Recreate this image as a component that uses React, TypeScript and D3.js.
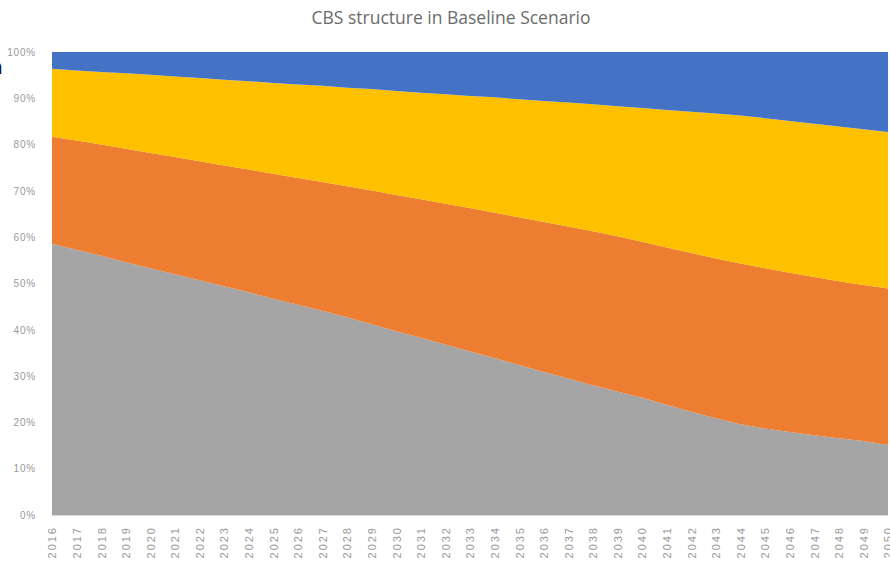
import * as d3 from 'd3'
import { useEffect, useRef } from 'react'

const years = [
  2016, 2017, 2018, 2019, 2020, 2021, 2022, 2023, 2024, 2025, 2026, 2027,
  2028, 2029, 2030, 2031, 2032, 2033, 2034, 2035, 2036, 2037, 2038, 2039,
  2040, 2041, 2042, 2043, 2044, 2045, 2046, 2047, 2048, 2049, 2050,
]

// shares in %, bottom to top
const grey = [
  58.6, 57.3, 56.0, 54.6, 53.3, 52.0, 50.7, 49.4, 48.1, 46.7, 45.4, 44.1,
  42.7, 41.2, 39.7, 38.3, 36.8, 35.3, 33.9, 32.4, 30.9, 29.5, 28.0, 26.7,
  25.3, 23.8, 22.3, 20.9, 19.6, 18.7, 17.9, 17.2, 16.6, 16.0, 15.1,
]
const orange = [
  23.1, 23.6, 24.0, 24.5, 24.9, 25.3, 25.7, 26.1, 26.5, 27.0, 27.4, 27.8,
  28.3, 28.9, 29.4, 29.9, 30.4, 31.0, 31.4, 31.9, 32.4, 32.8, 33.3, 33.5,
  33.7, 34.0, 34.3, 34.5, 34.7, 34.6, 34.4, 34.2, 33.9, 33.7, 33.8,
]
const yellow = [
  14.7, 15.1, 15.7, 16.3, 16.9, 17.4, 18.0, 18.5, 19.1, 19.6, 20.2, 20.8,
  21.3, 21.9, 22.5, 23.0, 23.7, 24.2, 24.9, 25.5, 26.1, 26.8, 27.4, 28.1,
  28.9, 29.7, 30.5, 31.3, 32.0, 32.4, 32.8, 33.1, 33.4, 33.6, 33.8,
]
const blue = [
  3.6, 4.0, 4.3, 4.6, 4.9, 5.3, 5.6, 6.0, 6.3, 6.7, 7.0, 7.3, 7.7, 8.0, 8.4,
  8.8, 9.1, 9.5, 9.8, 10.2, 10.6, 10.9, 11.3, 11.7, 12.1, 12.5, 12.9, 13.3,
  13.7, 14.3, 14.9, 15.5, 16.1, 16.7, 17.3,
]

const seriesKeys = ['grey', 'orange', 'yellow', 'blue']
const seriesColors = ['#a5a5a5', '#ed7d31', '#ffc000', '#4472c4']
const yTicks = [0, 0.1, 0.2, 0.3, 0.4, 0.5, 0.6, 0.7, 0.8, 0.9, 1]

const title = 'CBS structure in Baseline Scenario'

const App = () => {
  const ref = useRef<SVGSVGElement>(null)

  useEffect(() => {
    const width = 890
    const height = 568
    const margin = { top: 52, right: 2, bottom: 53, left: 52 }

    const svg = d3.select(ref.current)
    svg.selectAll('*').remove()
    svg.attr('width', width).attr('height', height)

    const rows = years.map((yr, i) => ({
      year: yr,
      grey: grey[i],
      orange: orange[i],
      yellow: yellow[i],
      blue: blue[i],
    }))

    const stacked = d3
      .stack<any>()
      .keys(seriesKeys)
      .offset(d3.stackOffsetExpand)(rows)

    const x = d3
      .scaleLinear()
      .domain([years[0], years[years.length - 1]])
      .range([margin.left, width - margin.right])
    const y = d3
      .scaleLinear()
      .domain([0, 1])
      .range([height - margin.bottom, margin.top])

    // title
    svg
      .append('text')
      .attr('x', 451)
      .attr('y', 24)
      .attr('text-anchor', 'middle')
      .attr('font-family', 'Open Sans, sans-serif')
      .attr('font-size', 17.5)
      .attr('fill', '#6b6b6b')
      .text(title)

    // cut off letter at the left edge
    svg
      .append('text')
      .attr('x', -12)
      .attr('y', 74)
      .attr('font-family', 'DejaVu Sans, sans-serif')
      .attr('font-weight', 'bold')
      .attr('font-size', 22)
      .attr('fill', '#111')
      .text('a')

    const area = d3
      .area<any>()
      .x((d) => x(d.data.year))
      .y0((d) => y(d[0]))
      .y1((d) => y(d[1]))

    svg
      .append('g')
      .selectAll('path')
      .data(stacked)
      .enter()
      .append('path')
      .attr('d', area)
      .attr('fill', (d, i) => seriesColors[i])

    // y axis
    svg
      .append('g')
      .attr('transform', `translate(${margin.left - 13},0)`)
      .call(
        d3
          .axisLeft(y)
          .tickValues(yTicks)
          .tickFormat(d3.format('.0%'))
          .tickSize(0)
      )
      .call((g) => g.select('.domain').remove())
      .call((g) =>
        g
          .selectAll('text')
          .attr('font-family', 'Liberation Sans, sans-serif')
          .attr('font-size', 10)
          .attr('letter-spacing', 0.8)
          .attr('fill', '#999')
      )

    // x axis
    svg
      .append('line')
      .attr('x1', margin.left)
      .attr('x2', width - margin.right)
      .attr('y1', y(0) + 0.5)
      .attr('y2', y(0) + 0.5)
      .attr('stroke', '#d9d9d9')

    svg
      .append('g')
      .attr('transform', `translate(0,${y(0)})`)
      .call(
        d3
          .axisBottom(x)
          .tickValues(years)
          .tickFormat(d3.format('d'))
          .tickSize(0)
      )
      .call((g) => g.select('.domain').remove())
      .call((g) =>
        g
          .selectAll('text')
          .attr('font-family', 'Liberation Sans, sans-serif')
          .attr('font-size', 11)
          .attr('letter-spacing', 2)
          .attr('fill', '#999')
          .attr('text-anchor', 'end')
          .attr('transform', 'rotate(-90)')
          .attr('x', -11)
          .attr('y', 0)
          .attr('dy', '0.35em')
      )
  }, [])

  return (
    <div style={{ position: 'absolute', left: 0, top: 0 }}>
      <svg ref={ref} style={{ display: 'block' }}></svg>
    </div>
  )
}

export default App
